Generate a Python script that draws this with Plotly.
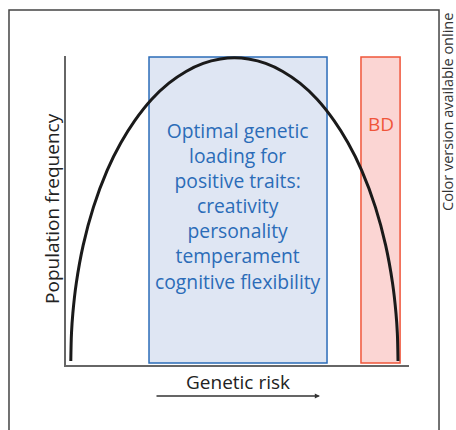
import plotly.graph_objects as go

# Curve (genetic risk 0-100, population frequency 0-100)
risk = [1.4, 1.6, 2, 3, 5, 8, 12, 16, 20, 25, 30, 35, 40, 45, 49.1,
        53.2, 58.2, 63.2, 68.2, 73.2, 78.2, 82.2, 86.2, 90.2, 93.2, 95.2, 96.2, 96.6, 96.8]
freq = [1.3, 10.3, 16.8, 26.5, 38.7, 51.1, 63.0, 71.9, 79.0, 86.0, 91.2, 95.0, 97.6, 99.0, 99.4,
        99.0, 97.6, 95.0, 91.2, 86.0, 79.0, 71.9, 63.0, 51.1, 38.7, 26.5, 16.8, 10.3, 1.3]

# Highlighted bands [x0, x1, y0, y1]
optimal_band = [24.2, 76.1, 0.65, 99.7]
bd_band = [86.0, 97.4, 0.65, 99.7]

optimal_lines = ["Optimal genetic", "loading for", "positive traits:", "creativity",
                 "personality", "temperament", "cognitive flexibility"]
bd_label = "BD"
x_title = "Genetic risk"
y_title = "Population frequency"
side_note = "Color version available online"

FONT = "Open Sans"
BLUE = "#2b6cb8"
RED = "#f0553a"

fig = go.Figure()
fig.add_trace(go.Scatter(x=risk, y=freq, mode="lines", line=dict(color="#1a1a1a", width=3),
                         line_shape="spline", hoverinfo="skip", showlegend=False))

fig.add_shape(type="rect", xref="x", yref="y", x0=optimal_band[0], x1=optimal_band[1],
              y0=optimal_band[2], y1=optimal_band[3], fillcolor="#dfe6f3",
              line=dict(color=BLUE, width=1.5), layer="below")
fig.add_shape(type="rect", xref="x", yref="y", x0=bd_band[0], x1=bd_band[1],
              y0=bd_band[2], y1=bd_band[3], fillcolor="#fbd5d3",
              line=dict(color=RED, width=1.5), layer="below")

# outer frame
fig.add_shape(type="rect", xref="paper", yref="paper", x0=-0.1662, x1=1.0875,
              y0=-0.26, y1=1.1489, line=dict(color="#444", width=1.5), layer="below")

fig.add_annotation(x=(optimal_band[0] + optimal_band[1]) / 2 + 0.1, y=51.5, xref="x", yref="y",
                   text="<br>".join(optimal_lines), showarrow=False, align="center",
                   xanchor="center", yanchor="middle",
                   font=dict(family=FONT, size=19.3, color=BLUE))
fig.add_annotation(x=(bd_band[0] + bd_band[1]) / 2, y=78, xref="x", yref="y",
                   text=bd_label, showarrow=False, xanchor="center", yanchor="middle",
                   font=dict(family=FONT, size=19, color=RED))

fig.add_annotation(x=-0.0408, y=0.505, xref="paper", yref="paper", text=y_title,
                   textangle=-90, showarrow=False, xanchor="center", yanchor="middle",
                   font=dict(family=FONT, size=19, color="#222"))
fig.add_annotation(x=0.5, y=-0.055, xref="paper", yref="paper", text=x_title,
                   showarrow=False, xanchor="center", yanchor="middle",
                   font=dict(family=FONT, size=19, color="#222"))
fig.add_annotation(x=0.7405, y=-0.1003, xref="paper", yref="paper", text="",
                   showarrow=True, axref="pixel", ayref="pixel", ax=-165, ay=0,
                   arrowhead=2, arrowsize=0.8, arrowwidth=1.3, arrowcolor="#333")
fig.add_annotation(x=1.1137, y=0.8188, xref="paper", yref="paper", text=side_note,
                   textangle=-90, showarrow=False, xanchor="center", yanchor="middle",
                   font=dict(family=FONT, size=14.5, color="#333"))

fig.update_xaxes(range=[0, 100], showline=True, linecolor="#666", linewidth=1.5,
                 showgrid=False, zeroline=False, showticklabels=False, ticks="")
fig.update_yaxes(range=[0, 100], showline=True, linecolor="#666", linewidth=1.5,
                 showgrid=False, zeroline=False, showticklabels=False, ticks="")
fig.update_layout(width=456, height=430, margin=dict(l=66, r=47, t=56, b=65),
                  plot_bgcolor="white", paper_bgcolor="white", hovermode=False)

# remove the default page margin so the 456x430 figure fills the window exactly
fig.write_html("out.html", config={"displayModeBar": False},
               post_script="document.body.style.margin='0';document.body.style.overflow='hidden';")
